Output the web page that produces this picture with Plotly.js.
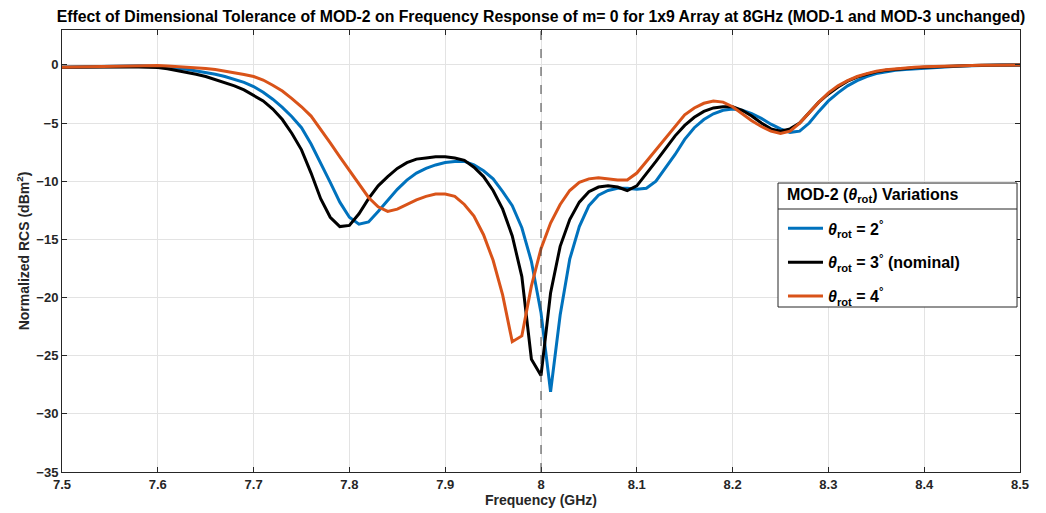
<!DOCTYPE html>
<html>
<head>
<meta charset="utf-8">
<script src="https://cdn.plot.ly/plotly-3.0.1.min.js"></script>
<style>html,body{margin:0;padding:0;background:#fff;}#chart{width:1046px;height:513px;}</style>
</head>
<body>
<div id="chart"></div>
<script>
// Frequency axis (GHz), 0.01 GHz steps from 7.50 to 8.50
const freq = [];
for (let i = 0; i <= 100; i++) freq.push(+(7.5 + i * 0.01).toFixed(2));

// theta_rot = 2 deg
const rcs2 = [
  -0.20,-0.18,-0.16,-0.14,-0.12,-0.10,-0.09,-0.08,-0.08,-0.10,
  -0.14,-0.20,-0.28,-0.38,-0.50,-0.62,-0.80,-1.00,-1.25,-1.50,
  -1.86,-2.35,-2.95,-3.65,-4.45,-5.40,-6.80,-8.40,-10.1,-11.8,
  -13.1,-13.7,-13.5,-12.6,-11.6,-10.7,-9.9,-9.3,-8.9,-8.6,
  -8.4,-8.3,-8.3,-8.6,-9.1,-9.8,-10.9,-12.1,-14.0,-16.9,
  -21.3,-28.1,-21.5,-16.7,-13.9,-12.1,-11.2,-10.8,-10.6,-10.6,
  -10.7,-10.6,-10.0,-8.9,-7.7,-6.4,-5.4,-4.7,-4.2,-3.9,
  -3.8,-3.9,-4.2,-4.6,-5.1,-5.5,-5.8,-5.7,-5.0,-4.0,
  -3.1,-2.4,-1.8,-1.35,-1.0,-0.75,-0.58,-0.47,-0.39,-0.33,
  -0.27,-0.22,-0.17,-0.13,-0.10,-0.06,-0.04,-0.02,-0.01,0.0,
  0.0
];

// theta_rot = 3 deg (nominal)
const rcs3 = [
  -0.20,-0.19,-0.18,-0.17,-0.16,-0.16,-0.17,-0.18,-0.19,-0.21,
  -0.23,-0.33,-0.47,-0.62,-0.80,-1.00,-1.25,-1.50,-1.80,-2.15,
  -2.60,-3.10,-3.80,-4.70,-5.90,-7.30,-9.30,-11.5,-13.1,-13.9,
  -13.8,-12.8,-11.5,-10.4,-9.6,-8.9,-8.4,-8.1,-8.0,-7.9,
  -7.9,-8.0,-8.2,-8.8,-9.6,-10.8,-12.4,-14.7,-18.2,-25.3,
  -26.7,-19.6,-15.6,-13.3,-11.8,-10.9,-10.5,-10.4,-10.5,-10.8,
  -10.4,-9.4,-8.3,-7.2,-6.1,-5.2,-4.5,-4.0,-3.7,-3.6,
  -3.6,-3.9,-4.4,-5.0,-5.5,-5.7,-5.5,-5.0,-4.1,-3.2,
  -2.5,-1.9,-1.4,-1.05,-0.80,-0.60,-0.47,-0.38,-0.30,-0.25,
  -0.20,-0.16,-0.13,-0.10,-0.07,-0.05,-0.03,-0.02,-0.01,0.0,
  0.0
];

// theta_rot = 4 deg
const rcs4 = [
  -0.20,-0.18,-0.16,-0.14,-0.12,-0.10,-0.09,-0.08,-0.07,-0.06,
  -0.06,-0.09,-0.13,-0.18,-0.24,-0.31,-0.40,-0.52,-0.66,-0.82,
  -1.00,-1.30,-1.75,-2.25,-2.90,-3.60,-4.40,-5.50,-6.70,-7.90,
  -9.1,-10.3,-11.4,-12.2,-12.6,-12.4,-12.0,-11.6,-11.3,-11.1,
  -11.1,-11.3,-12.0,-13.0,-14.6,-16.8,-19.8,-23.8,-23.3,-19.0,
  -15.8,-13.6,-12.0,-10.8,-10.1,-9.8,-9.7,-9.8,-9.9,-9.9,
  -9.3,-8.3,-7.3,-6.2,-5.2,-4.3,-3.7,-3.3,-3.1,-3.2,
  -3.6,-4.2,-4.8,-5.3,-5.7,-5.9,-5.7,-5.0,-4.1,-3.2,
  -2.4,-1.8,-1.35,-1.0,-0.75,-0.55,-0.42,-0.33,-0.26,-0.20,
  -0.16,-0.13,-0.10,-0.08,-0.06,-0.04,-0.03,-0.02,-0.01,0.0,
  0.0
];

const seriesNames = [
  '<i>θ</i><sub>rot</sub> = 2<sup>°</sup>',
  '<i>θ</i><sub>rot</sub> = 3<sup>°</sup> (nominal)',
  '<i>θ</i><sub>rot</sub> = 4<sup>°</sup>'
];
const legendTitle = '<b>MOD-2 (<i>θ</i><sub>rot</sub>) Variations</b>';
const chartTitle = '<b>Effect of Dimensional Tolerance of MOD-2 on Frequency Response of m= 0 for 1x9 Array at 8GHz (MOD-1 and MOD-3 unchanged)</b>';
const seriesColors = ['#0072BD', '#000000', '#D95319'];
const designFreq = 8;

const FONT = 'Liberation Sans, Arial, Helvetica, sans-serif';

const traces = [rcs2, rcs3, rcs4].map((ys, i) => ({
  x: freq, y: ys, type: 'scatter', mode: 'lines',
  name: seriesNames[i], legendgroup: 'g' + i,
  line: {color: seriesColors[i], width: 3}
}));

const axisCommon = {
  showline: true, mirror: 'ticks', linecolor: '#262626', linewidth: 1,
  ticks: 'inside', ticklen: 5, tickcolor: '#262626',
  showgrid: true, gridcolor: '#e3e3e3', gridwidth: 1,
  zeroline: false,
  tickfont: {family: FONT, size: 13, color: '#262626', weight: 'bold'}
};

// legend box geometry (paper fractions)
const boxX0 = 0.7474, boxX1 = 0.9969, boxY0 = 0.3733, boxY1 = 0.6538, sepY = 0.595;

const layout = {
  width: 1046, height: 513,
  margin: {l: 62, r: 26, t: 30, b: 41},
  paper_bgcolor: '#ffffff', plot_bgcolor: '#ffffff',
  font: {family: FONT, color: '#262626'},
  title: {
    text: chartTitle,
    font: {family: FONT, size: 15.8, color: '#000000'},
    xref: 'paper', x: 0.5, xanchor: 'center', y: 0.968, yanchor: 'middle'
  },
  xaxis: Object.assign({}, axisCommon, {
    range: [7.5, 8.5], tick0: 7.5, dtick: 0.1,
    title: {text: '<b>Frequency (GHz)</b>', font: {family: FONT, size: 14, color: '#262626'}, standoff: 2}
  }),
  yaxis: Object.assign({}, axisCommon, {
    range: [-35, 3], tick0: 0, dtick: 5,
    title: {text: '<b>Normalized RCS (dBm<sup>2</sup>)</b>', font: {family: FONT, size: 14, color: '#262626'}, standoff: 3}
  }),
  legend: {
    x: 0.7526, y: 0.5895, xanchor: 'left', yanchor: 'top',
    bgcolor: 'rgba(0,0,0,0)', borderwidth: 0,
    font: {family: FONT, size: 16, color: '#000000', weight: 'bold'},
    itemwidth: 35,
    tracegroupgap: 10
  },
  annotations: [{
    xref: 'paper', yref: 'paper', x: 0.7547, y: 0.6245, xanchor: 'left', yanchor: 'middle',
    text: legendTitle, showarrow: false,
    font: {family: FONT, size: 16, color: '#000000'}
  }],
  shapes: [
    {
      type: 'line', xref: 'x', yref: 'paper',
      x0: designFreq, x1: designFreq, y0: 0, y1: 1,
      line: {color: '#404040', width: 1, dash: 'dash'}
    },
    {
      type: 'rect', xref: 'paper', yref: 'paper', layer: 'above',
      x0: boxX0, x1: boxX1, y0: boxY0, y1: boxY1,
      fillcolor: '#ffffff', line: {color: '#262626', width: 1}
    },
    {
      type: 'line', xref: 'paper', yref: 'paper', layer: 'above',
      x0: boxX0, x1: boxX1, y0: sepY, y1: sepY,
      line: {color: '#262626', width: 1}
    }
  ]
};

Plotly.newPlot('chart', traces, layout, {displayModeBar: false, staticPlot: true});
</script>
</body>
</html>
